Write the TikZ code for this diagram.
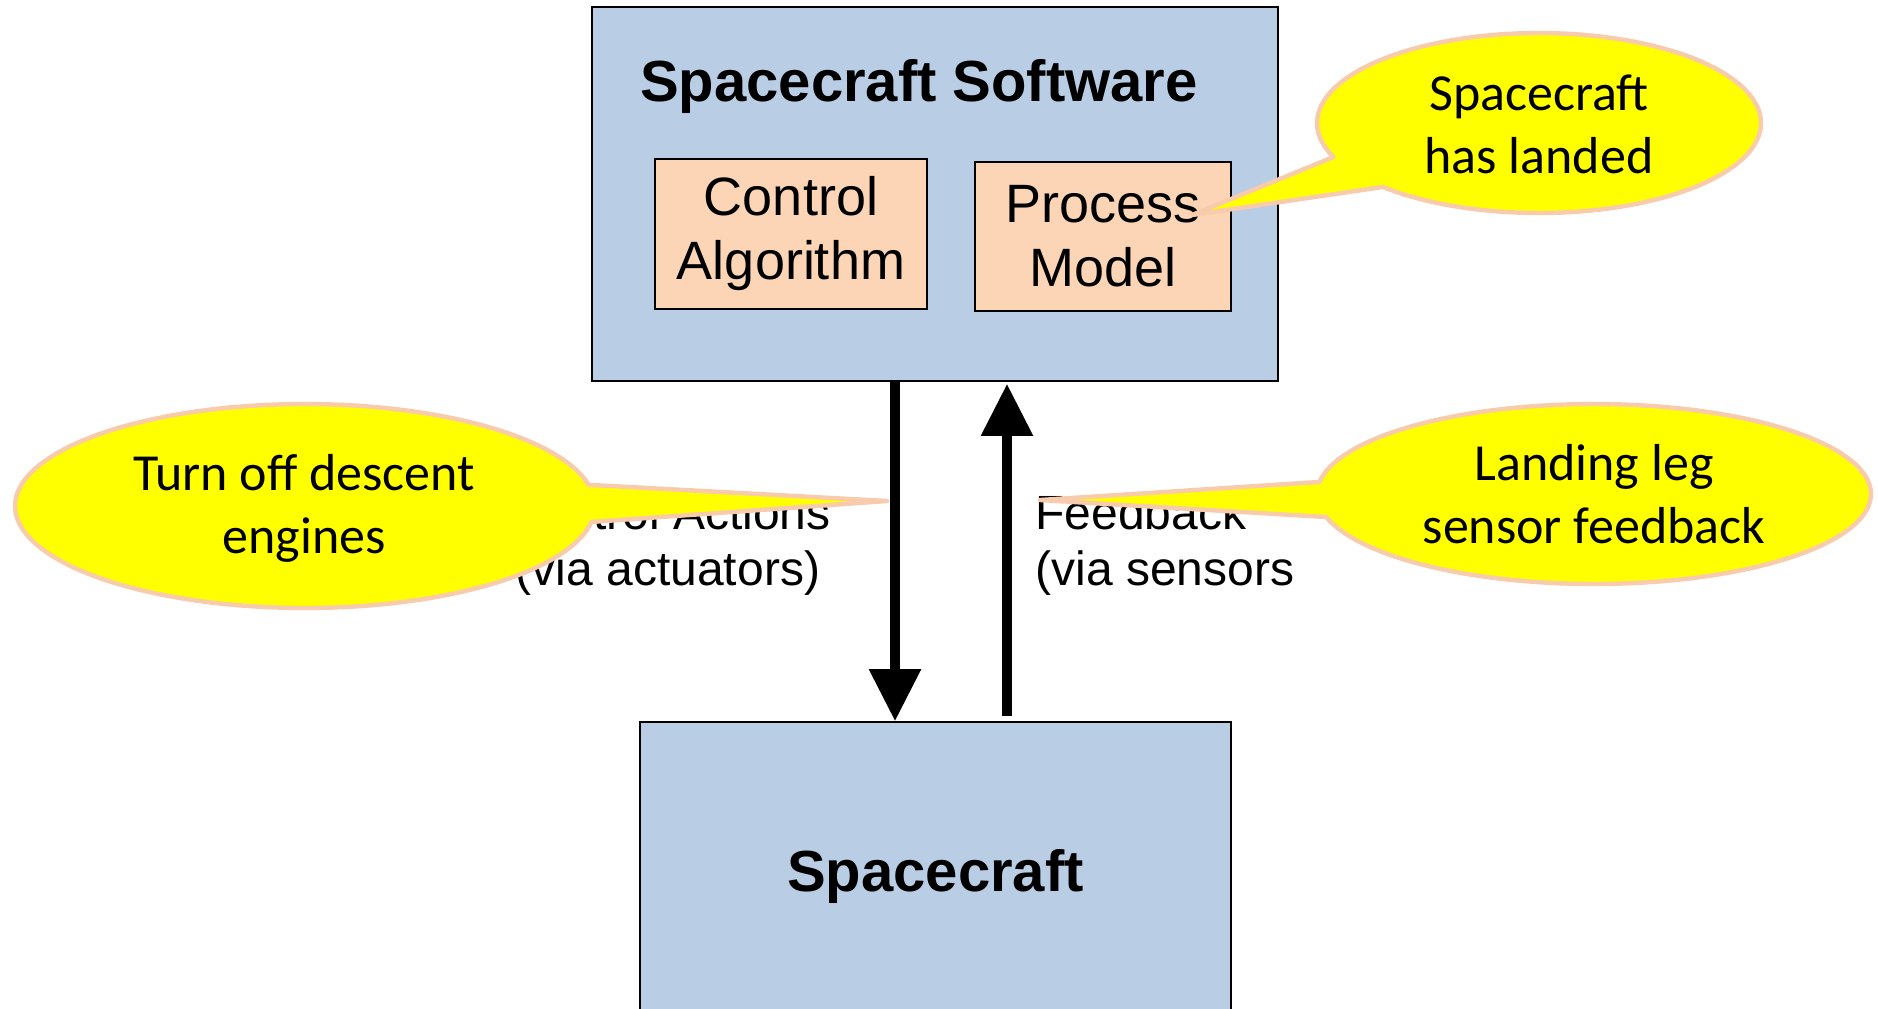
\documentclass[tikz,border=0pt]{standalone}
\usepackage{fontspec}
\setmainfont{Liberation Sans}
\newfontfamily\calfont{Carlito}
\usetikzlibrary{arrows.meta}
\definecolor{boxblue}{RGB}{185,205,229}
\definecolor{boxpeach}{RGB}{251,213,181}
\definecolor{callyellow}{RGB}{255,255,0}
\definecolor{callrim}{RGB}{248,203,173}
\tikzset{
  bluebox/.style={draw=black, line width=0.9pt, fill=boxblue, inner sep=0pt},
  peachbox/.style={draw=black, line width=0.9pt, fill=boxpeach, inner sep=0pt, align=center, font=\fontsize{27}{32}\selectfont},
  bigarrow/.style={line width=4.6pt, -{Triangle[width=25pt,length=26pt]}},
  flowlabel/.style={font=\fontsize{24}{28}\selectfont, inner sep=0pt},
  callout/.style={fill=callyellow, draw=callrim, line width=2.2pt, line join=round},
  callouttext/.style={font=\calfont\fontsize{26}{31.5}\selectfont, align=center, inner sep=0pt},
  titletext/.style={font=\bfseries\fontsize{29}{34}\selectfont, inner sep=0pt}
}
\begin{document}
\begin{tikzpicture}[x=0.5pt,y=-0.5pt]
\clip (0,0) rectangle (1878,1008);
\fill[white] (0,0) rectangle (1878,1008);
% boxes
\node[bluebox, minimum width=343pt, minimum height=187pt] (SW) at (935,194) {};
\node[titletext, anchor=base] (title) at (919,101) {Spacecraft Software};
\node[peachbox, minimum width=136pt, minimum height=75pt] (CA) at (791,234) {Control\\Algorithm};
\node[peachbox, minimum width=128pt, minimum height=74.5pt] (PM) at (1103,236.5) {Process\\Model};
\node[bluebox, minimum width=295.5pt, minimum height=154pt, titletext] (SC) at (935.5,876) {Spacecraft};
% arrows
\coordinate (dx) at (895,0);
\coordinate (ux) at (1007,0);
\draw[bigarrow] (SW.south -| dx) -- (SC.north -| dx);
\draw[bigarrow] ([yshift=2.5pt]SC.north -| ux) -- ([yshift=-1pt]SW.south -| ux);
% labels
\node[flowlabel, align=center] (ctl) at (668,545) {Control Actions\\(via actuators)};
\node[flowlabel, align=left, anchor=west] (fb) at (1035,545) {Feedback\\(via sensors};
% callouts
\coordinate (tipA) at (1192,215);
\coordinate (tipB) at (887,501);
\coordinate (tipC) at (1040,500);
\draw[callout] plot[domain=157.8:494.7, samples=140] ({1539+222*cos(\x)},{123+90*sin(\x)}) -- (tipA) -- cycle;
\node[callouttext] (cA) at (1539,124) {Spacecraft\\has landed};
\draw[callout] plot[domain=9:348, samples=140] ({305+290*cos(\x)},{506+102*sin(\x)}) -- (tipB) -- cycle;
\node[callouttext] (cB) at (304,508) {Turn off descent\\engines};
\draw[callout] plot[domain=187.7:525.2, samples=140] ({1594+277*cos(\x)},{494+90*sin(\x)}) -- (tipC) -- cycle;
\node[callouttext] (cC) at (1594,494) {Landing leg\\sensor feedback};
\end{tikzpicture}
\end{document}
